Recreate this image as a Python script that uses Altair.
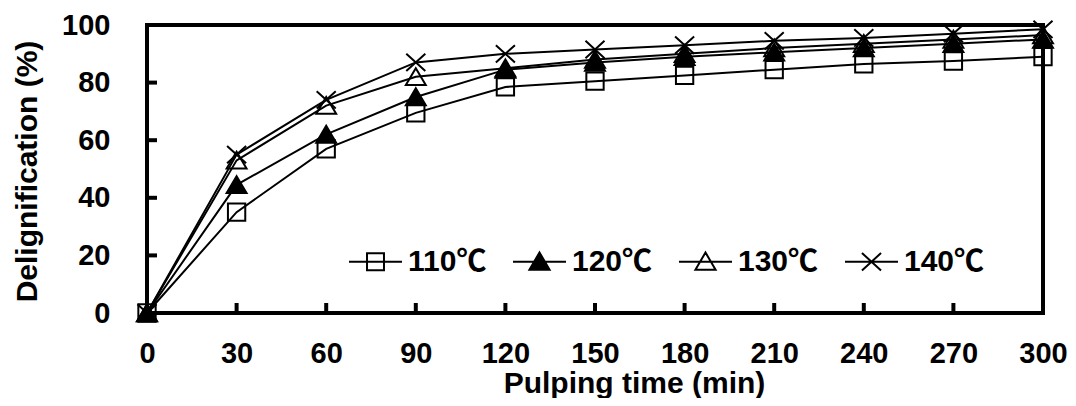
import altair as alt
import pandas as pd

# ---- data ----
times = [0, 30, 60, 90, 120, 150, 180, 210, 240, 270, 300]
series = ["110℃", "120℃", "130℃", "140℃"]
d110 = [0, 35, 57, 69.5, 78.5, 80.5, 82.5, 84.5, 86.5, 87.5, 89]
d120 = [0, 44.5, 62, 75, 84.5, 87, 89, 90.5, 92, 93.5, 95]
d130 = [0, 53, 72, 82, 85, 88, 90, 92, 93.5, 95, 96.5]
d140 = [0, 55, 74, 87, 90, 91.5, 93, 94.5, 95.5, 97, 98.5]
x_ticks = [0, 30, 60, 90, 120, 150, 180, 210, 240, 270, 300]
y_ticks = [0, 20, 40, 60, 80, 100]

values = {"110℃": d110, "120℃": d120, "130℃": d130, "140℃": d140}
draw_order = ["110℃", "130℃", "120℃", "140℃"]
rows = []
for s in draw_order:
    for t, d in zip(times, values[s]):
        rows.append({"t": t, "d": d, "s": s})
df = pd.DataFrame(rows)

W, H = 896, 288
FONT = "Liberation Sans, Arial, Noto Sans CJK SC"

tri = "M0,-1L1.15,0.95H-1.15Z"
xmark = "M-1.1,-1L1.1,1M-1.1,1L1.1,-1"
plot_shapes = ["square", tri, tri, xmark]
plot_fills = ["transparent", "black", "transparent", "transparent"]

leg_shapes = [
    "M-1,0H1M-0.32,-0.32H0.32V0.32H-0.32Z",
    "M-1,0H1M0,-0.35L0.38,0.3H-0.38Z",
    "M-1,0H1M0,-0.35L0.38,0.3H-0.38Z",
    "M-1,0H1M-0.36,-0.33L0.36,0.33M-0.36,0.33L0.36,-0.33",
]
leg_fills = ["transparent", "black", "transparent", "transparent"]

xs = alt.Scale(domain=[0, 300], nice=False, zero=False)
ys = alt.Scale(domain=[0, 100], nice=False)

xaxis = alt.Axis(
    values=x_ticks, title="Pulping time (min)", grid=False, domain=False,
    ticks=False, tickSize=0, labelPadding=26, labelFontSize=29,
    labelFont=FONT, labelFontWeight="bold", labelColor="black",
    titleFontSize=30, titleFont=FONT, titleFontWeight="bold", titleColor="black",
    titleX=487, titleY=79, titleBaseline="alphabetic", titleAlign="center",
    labelFlush=False, labelOverlap=False,
)
yaxis = alt.Axis(
    values=y_ticks, title="Delignification (%)", grid=False, domain=False,
    ticks=False, tickSize=0, labelPadding=37, labelFontSize=29,
    labelFont=FONT, labelFontWeight="bold", labelColor="black",
    titleFontSize=30, titleFont=FONT, titleFontWeight="bold", titleColor="black",
    titleX=-120, titleY=146, titleBaseline="middle", titleAlign="center",
    labelFlush=False, labelOverlap=False,
)

base = alt.Chart(df)

lines = base.mark_line(color="black", strokeWidth=2).encode(
    x=alt.X("t:Q", scale=xs, axis=xaxis),
    y=alt.Y("d:Q", scale=ys, axis=yaxis),
    detail="s:N",
)

points = base.mark_point(filled=True, opacity=1, size=300, stroke="black", strokeWidth=2).encode(
    x=alt.X("t:Q", scale=xs, axis=xaxis),
    y=alt.Y("d:Q", scale=ys, axis=yaxis),
    shape=alt.Shape("s:N", scale=alt.Scale(domain=series, range=plot_shapes), legend=None),
    color=alt.Color("s:N", scale=alt.Scale(domain=series, range=plot_fills), legend=None),
)

leg = alt.Legend(
    title=None, orient="none", direction="horizontal", legendX=201, legendY=209,
    symbolSize=2809, symbolStrokeWidth=2, symbolStrokeColor="black",
    labelFontSize=30, labelFont=FONT, labelFontWeight="bold", labelColor="black",
    labelOffset=5, columnPadding=22, padding=0, columns=4,
)

legend_layer = base.transform_filter("false").mark_point(
    filled=True, opacity=1, stroke="black", strokeWidth=2
).encode(
    x=alt.X("t:Q", scale=xs, axis=xaxis),
    y=alt.Y("d:Q", scale=ys, axis=yaxis),
    shape=alt.Shape("s:N", scale=alt.Scale(domain=series, range=leg_shapes), legend=leg),
    color=alt.Color("s:N", scale=alt.Scale(domain=series, range=leg_fills), legend=leg),
)

ytk = alt.Chart(pd.DataFrame({"v": y_ticks[1:-1]})).mark_rule(color="black", strokeWidth=4).encode(
    y=alt.Y("v:Q", scale=ys, axis=yaxis),
    x=alt.value(0),
    x2=alt.value(10),
)
xtk = alt.Chart(pd.DataFrame({"v": x_ticks[1:-1]})).mark_rule(color="black", strokeWidth=4).encode(
    x=alt.X("v:Q", scale=xs, axis=xaxis),
    y=alt.value(H),
    y2=alt.value(H - 10),
)

chart = (
    alt.layer(lines, legend_layer, points, ytk, xtk)
    .resolve_scale(color="independent", shape="independent")
    .properties(
        width=W, height=H,
        background="white",
        autosize=alt.AutoSizeParams(type="none"),
        padding={"left": 139, "top": 17, "right": 25, "bottom": 85},
    )
    .configure_view(stroke="black", strokeWidth=4)
)

chart.save("out.html", embed_options={"renderer": "svg", "actions": False})
